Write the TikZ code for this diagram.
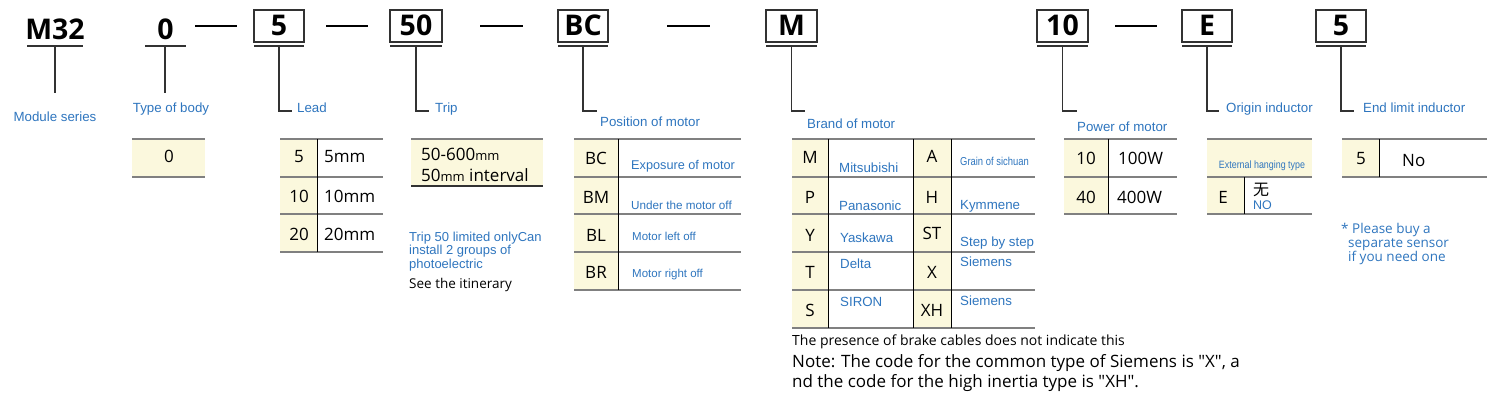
\documentclass[tikz,border=0pt]{standalone}
\usepackage{fontspec}
\setmainfont{Open Sans}[Ligatures=TeXOff]
\newfontfamily\arialf{Liberation Sans}
\newfontfamily\cjkf{Noto Sans CJK SC}
\definecolor{bluet}{RGB}{46,117,190}
\definecolor{yel}{RGB}{251,248,221}
\definecolor{grayl}{RGB}{128,128,128}
\definecolor{boxc}{RGB}{50,50,50}
\newcommand\fs[1]{\fontsize{#1}{#1}\selectfont}
\tikzset{
  code/.style={font=\bfseries\fs{28.5}, anchor=base, inner sep=0pt, text=black},
  codebox/.style={draw=boxc, line width=1.3pt},
  uline/.style={draw=boxc, line width=1.5pt},
  conn/.style={draw=boxc, line width=1.3pt},
  dashline/.style={draw=black, line width=1.5pt},
  lbl/.style={font=\arialf\fs{13.3}, text=bluet, anchor=base west, inner sep=0pt},
  tline/.style={draw=grayl, line width=1.8pt},
  vdiv/.style={draw=black, line width=1pt},
  tt/.style={font=\fs{17}, anchor=base, inner sep=0pt},
  ttl/.style={font=\fs{17}, anchor=base west, inner sep=0pt},
  tb/.style={font=\arialf\fs{12.7}, text=bluet, anchor=base west, inner sep=0pt},
  note/.style={anchor=base west, inner sep=0pt},
}
\begin{document}
\begin{tikzpicture}[x=1pt,y=-1pt]
\useasboundingbox (0,0) rectangle (1495,398);

% ---------------- header ----------------
\node[code] (cM32) at (55,40) {M32};
\draw[uline] (27,46) -- (83,46);
\coordinate (uM32) at (55,46);
\coordinate (eM32) at (55,93);
\draw[conn] (uM32) -- (eM32);
\node[lbl, anchor=base] (lM32) at (55,122) {Module series};

\node[code] (c0) at (165.5,40) {0};
\draw[uline] (145,46) -- (186,46);
\coordinate (u0) at (165,46);
\coordinate (e0) at (165,93);
\draw[conn] (u0) -- (e0);
\node[lbl, anchor=base] (l0) at (171,113) {Type of body};

% dashes
\coordinate (d1a) at (195,26); \coordinate (d1b) at (237,26);
\coordinate (d2a) at (326,26); \coordinate (d2b) at (368,26);
\coordinate (d3a) at (480,26); \coordinate (d3b) at (523,26);
\coordinate (d4a) at (667,26); \coordinate (d4b) at (710,26);
\coordinate (d5a) at (1115,26); \coordinate (d5b) at (1157,26);
\foreach \a/\b in {d1a/d1b,d2a/d2b,d3a/d3b,d4a/d4b,d5a/d5b} \draw[dashline] (\a) -- (\b);

% boxed codes: name/left/right/text/elbow end/label x/label y/label
\foreach \n/\l/\r/\t/\e/\lx/\ly/\lab in {
  b5/254/304/5/292/297/113/Lead,
  b50/390/442/50/429/435/113/Trip,
  bBC/558/608/BC/597/600/127/Position of motor,
  bM/766/817/M/805/807/129/Brand of motor,
  b10/1037/1088/10/1077/1077/132/Power of motor,
  bE/1182/1232/E/1219/1226/113/Origin inductor,
  b5b/1316/1366/5/1354/1363/113/End limit inductor}{
  \draw[codebox] (\l,10) rectangle (\r,42);
  \node[code] (c\n) at ({(\l+\r)/2},36) {\t};
  \draw[uline] (\l,46) -- (\r,46);
  \coordinate (u\n) at ({(\l+\r)/2},46);
  \coordinate (e\n) at (\e,111);
  \draw[conn] (u\n) |- (e\n);
  \node[lbl] (l\n) at (\lx,\ly) {\lab};
}

% ---------------- type of body table ----------------
\fill[yel] (132,139) rectangle (205,177);
\draw[tline] (132,139) -- (205,139);
\draw[tline] (132,177) -- (205,177);
\node[tt] (t0) at (169,163) {0};

% ---------------- lead table ----------------
\fill[yel] (280,139) rectangle (317,252);
\foreach \y in {139,177,214,252} \draw[tline] (280,\y) -- (383,\y);
\draw[vdiv] (317,139) -- (317,252);
\node[tt] at (299,163) {5};   \node[ttl] at (324,163) {5mm};
\node[tt] at (299,202) {10};  \node[ttl] at (324,202) {10mm};
\node[tt] at (299,240) {20};  \node[ttl] at (324,240) {20mm};

% ---------------- trip table ----------------
\fill[yel] (411,139) rectangle (543,186);
\draw[tline] (411,139) -- (543,139);
\draw[draw=boxc, line width=1.5pt] (411,186) -- (543,186);
\node[ttl] at (421,161) {50-600{\fs{13}mm}};
\node[ttl] at (421,182) {50{\fs{13}mm} interval};
\tikzset{tn/.style={note, font=\arialf\fs{13}, text=bluet}}
\node[tn] at (409,241) {Trip 50 limited onlyCan};
\node[tn] at (409,254.5) {install 2 groups of};
\node[tn] at (409,268) {photoelectric};
\node[note, font=\fs{13.5}] at (409,288) {See the itinerary};

% ---------------- position table ----------------
\fill[yel] (574,139) rectangle (618,290);
\foreach \y in {139,177,214,252,290} \draw[tline] (574,\y) -- (741,\y);
\draw[vdiv] (618,139) -- (618,290);
\node[tt] at (596,165) {BC}; \node[tb] at (631,170) {Exposure of motor};
\node[tt] at (596,203) {BM}; \node[tb, font=\arialf\fs{11.7}] at (631,209) {Under the motor off};
\node[tt] at (596,241) {BL}; \node[tb, font=\arialf\fs{11.5}] at (632,240) {Motor left off};
\node[tt] at (596,278) {BR}; \node[tb, font=\arialf\fs{11.5}] at (632,277) {Motor right off};

% ---------------- brand table ----------------
\fill[yel] (792,139) rectangle (828,328);
\fill[yel] (913,139) rectangle (951,328);
\foreach \y in {139,177,214,252,290,328} \draw[tline] (792,\y) -- (1035,\y);
\foreach \x in {828,913,951} \draw[vdiv] (\x,139) -- (\x,328);
\tikzset{tbb/.style={tb, font=\arialf\fs{13.3}}}
\node[tt] at (810,164) {M};  \node[tbb] at (839,172) {Mitsubishi};
\node[tt] at (932,163) {A};  \node[tb, font=\arialf\fs{11.5}, xscale=0.82, anchor=base west] at (960,166) {Grain of sichuan};
\node[tt] at (810,203) {P};  \node[tbb] at (839,210) {Panasonic};
\node[tt] at (932,203) {H};  \node[tbb] at (960,209) {Kymmene};
\node[tt] at (810,241) {Y};  \node[tbb] at (840,242) {Yaskawa};
\node[tt] at (932,239) {ST}; \node[tbb] at (960,246) {Step by step};
\node[tt] at (810,278) {T};  \node[tbb] at (840,268) {Delta};
\node[tt] at (932,278) {X};  \node[tbb] at (960,266) {Siemens};
\node[tt] at (810,316) {S};  \node[tbb] at (840,306) {SIRON};
\node[tt] at (932,316) {XH}; \node[tbb] at (960,305) {Siemens};

\node[note, font=\fs{14}] at (792,345) {The presence of brake cables does not indicate this};
\node[note, font=\fs{17}] at (792,367) {Note: The code for the common type of Siemens is "X", a};
\node[note, font=\fs{17}] at (792,387) {nd the code for the high inertia type is "XH".};

% ---------------- power table ----------------
\fill[yel] (1064,139) rectangle (1108,214);
\foreach \y in {139,177,214} \draw[tline] (1064,\y) -- (1177,\y);
\draw[vdiv] (1108,139) -- (1108,214);
\node[tt] at (1086,165) {10}; \node[ttl] at (1118,165) {100W};
\node[tt] at (1086,203) {40}; \node[ttl] at (1117,203) {400W};

% ---------------- origin table ----------------
\fill[yel] (1207,139) rectangle (1312,177);
\fill[yel] (1207,177) rectangle (1244,214);
\foreach \y in {139,177,214} \draw[tline] (1207,\y) -- (1312,\y);
\draw[vdiv] (1244,177) -- (1244,214);
\node[tb, font=\arialf\fs{10.6}, xscale=0.84, anchor=base] at (1262,169) {External hanging type};
\node[tt] at (1223,203) {E};
\node[anchor=base west, inner sep=0pt, font=\cjkf\fs{16}] at (1253,196) {无};
\node[tb, font=\arialf\fs{12.5}] at (1253,209) {NO};

% ---------------- end limit table ----------------
\fill[yel] (1342,139) rectangle (1379,177);
\foreach \y in {139,177} \draw[tline] (1342,\y) -- (1487,\y);
\draw[vdiv] (1379,139) -- (1379,177);
\node[tt] at (1361,165) {5};
\node[ttl] at (1402,167) {No};
\tikzset{sn/.style={note, font=\fs{13.5}, text=bluet}}
\node[sn] at (1341,233) {* Please buy a};
\node[sn] at (1348,247) {separate sensor};
\node[sn] at (1348,261) {if you need one};
\end{tikzpicture}
\end{document}
